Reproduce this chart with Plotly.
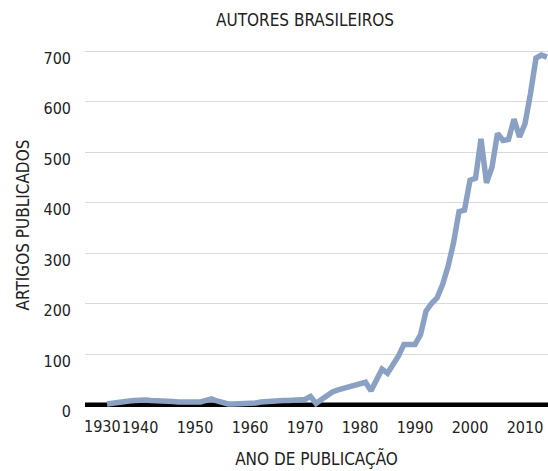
import plotly.graph_objects as go

years = list(range(1934, 2015))
artigos = [1, 3, 5, 6, 7, 8, 9, 9, 8, 8, 7, 7, 6, 5, 5, 4, 4, 5, 8, 11,
           7, 3, 1, 1, 1, 1, 2, 3, 5, 6, 8, 8, 8, 8, 8, 8, 10, 16, 2, 10,
           18, 25, 29, 32, 35, 38, 41, 44, 27, 50, 70, 62, 78, 96, 119, 119,
           119, 138, 185, 200, 211, 237, 273, 320, 382, 385, 444, 448, 526, 439,
           470, 537, 523, 525, 565, 530, 556, 616, 686, 692, 688]
y_ticks = [0, 100, 200, 300, 400, 500, 600, 700]
x_ticks = [1940, 1950, 1960, 1970, 1980, 1990, 2000, 2010]
first_x_label = 1930

FONT = "DejaVu Sans Condensed, Liberation Sans Narrow, Roboto, sans-serif"
TXT = "#222222"

fig = go.Figure()
fig.add_trace(go.Scatter(
    x=years, y=artigos, mode="lines",
    line=dict(color="#8aa1c4", width=5.5, shape="linear"),
    hoverinfo="x+y", showlegend=False,
))

fig.update_layout(
    width=548, height=471,
    margin=dict(l=85, r=0, t=40, b=61, autoexpand=False),
    plot_bgcolor="white", paper_bgcolor="white",
    font=dict(family=FONT, size=16, color=TXT),
    xaxis=dict(
        range=[1930, 1930 + 463 / 5.5], automargin=False,
        tickvals=x_ticks, ticktext=[str(v) for v in x_ticks],
        showgrid=False, zeroline=False, showline=False,
        ticks="", ticklabelstandoff=6,
        tickfont=dict(family=FONT, size=16, color=TXT),
        title=dict(text="ANO DE PUBLICAÇÃO", standoff=17,
                   font=dict(family=FONT, size=17, color=TXT)),
    ),
    yaxis=dict(
        range=[-10.9, 721.8], automargin=False,
        tickvals=y_ticks, ticktext=[str(v) for v in y_ticks],
        showgrid=True, gridcolor="#d9d9d9", gridwidth=1,
        zeroline=True, zerolinecolor="#000000", zerolinewidth=4,
        showline=False, ticks="",
        ticklabelposition="outside", ticklabelstandoff=13, ticklabelshift=7,
        tickfont=dict(family=FONT, size=16, color=TXT),
        title=dict(text="ARTIGOS PUBLICADOS", standoff=9,
                   font=dict(family=FONT, size=17, color=TXT)),
    ),
    shapes=[
        dict(type="line", layer="below", xref="paper", x0=0, x1=1,
             yref="y", y0=0, y1=0, line=dict(color="#000000", width=4)),
    ],
    annotations=[
        dict(text="AUTORES BRASILEIROS", x=0.475, y=1 + (40 - 20) / 370,
             xref="paper", yref="paper", yanchor="middle",
             showarrow=False, font=dict(family=FONT, size=17, color=TXT)),
        dict(text=str(first_x_label), x=first_x_label, xref="x", y=0, yref="paper",
             xanchor="left", yanchor="top", yshift=-5, xshift=-3, showarrow=False,
             font=dict(family=FONT, size=16, color=TXT)),
    ],
)

fig.write_html("out.html", post_script="document.body.style.margin='0';",
               config={"displayModeBar": False})
